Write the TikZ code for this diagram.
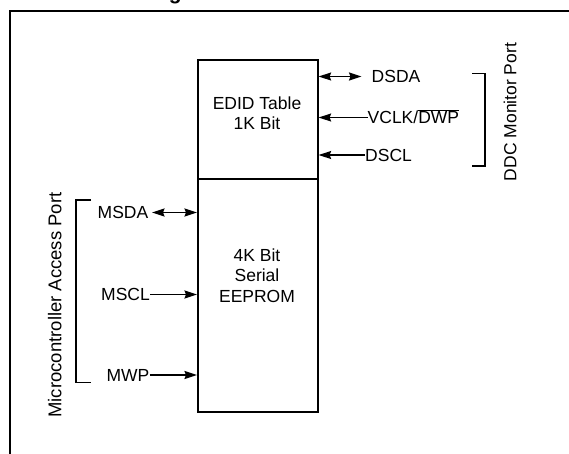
\documentclass[tikz,border=0pt]{standalone}
\usepackage{fontspec}
\setmainfont{Liberation Sans}
\usetikzlibrary{arrows.meta}
\begin{document}
\begin{tikzpicture}[x=1pt,y=-1pt,
  lbl/.style={font=\fontsize{17.5}{21}\selectfont, inner sep=0pt, text height=12.5pt, text depth=0pt},
  boxtxt/.style={font=\fontsize{17.5}{20.5}\selectfont, inner sep=0pt, align=center},
  blk/.style={draw, line width=1.6pt, minimum width=120pt, inner sep=0pt, anchor=north west},
  tipa/.style={-{Stealth[length=12.5pt,width=8pt,inset=1.5pt]}},
  tipb/.style={{Stealth[length=12.5pt,width=8pt,inset=1.5pt]}-{Stealth[length=12.5pt,width=8pt,inset=1.5pt]}},
  wire/.style={line width=1.5pt},
  brk/.style={line width=1.6pt}]
\useasboundingbox (0,0) rectangle (569,453);
% title fragment and frame
\node[font=\fontsize{21}{24}\bfseries\selectfont, inner sep=0pt, anchor=base east] (title) at (182,-0.5) {Block Diag};
\node[font=\fontsize{21}{24}\bfseries\selectfont, inner sep=0pt, anchor=base west] (title2) at (title.base east) {ram};
\draw[line width=2pt] (9.5,460) -- (9.5,11) -- (580,11);
% blocks
\node[blk, minimum height=119pt] (edid) at (197,59) {};
\node[blk, minimum height=233pt] (eeprom) at (197,178) {};
\node[boxtxt] (edidt) at (257,113) {EDID Table\\1K Bit};
\node[boxtxt] (eepromt) at (257,275.5) {4K Bit\\Serial\\EEPROM};
% DDC side
\node[lbl, anchor=west] (dsda) at (371.5,76.5) {DSDA};
\node[lbl, anchor=west] (vclk) at (367.5,117.5) {VCLK/$\overline{\mbox{DWP}}$};
\node[lbl, anchor=west] (dscl) at (365,155) {DSCL};
\draw[wire,tipb] ([xshift=-10pt]dsda.west) -- (edid.east |- dsda.west);
\draw[wire,tipa] (vclk.west) -- (edid.east |- vclk.west);
\draw[wire,tipa] (dscl.west) -- (edid.east |- dscl.west);
\coordinate (ddct) at (472,73.5);
\coordinate (ddcb) at (472,166);
\draw[brk] (ddct) -- ++(13,0) |- (ddcb);
\node[lbl, rotate=90] (ddc) at (510,112) {DDC Monitor Port};
% microcontroller side
\node[lbl, anchor=east] (msda) at (148.5,212.5) {MSDA};
\node[lbl, anchor=east] (mscl) at (150,294.5) {MSCL};
\node[lbl, anchor=east] (mwp) at (149.5,375) {MWP};
\draw[wire,tipb] ([xshift=3.5pt]msda.east) -- (eeprom.west |- msda.east);
\draw[wire,tipa] (mscl.east) -- (eeprom.west |- mscl.east);
\draw[wire,tipa] (mwp.east) -- (eeprom.west |- mwp.east);
\coordinate (mct) at (91,200);
\coordinate (mcb) at (91,382.5);
\draw[brk] (mct) -- ++(-15,0) |- (mcb);
\node[lbl, font=\fontsize{18.5}{21}\selectfont, rotate=90] (mcu) at (55,305) {Microcontroller Access Port};
\end{tikzpicture}
\end{document}
